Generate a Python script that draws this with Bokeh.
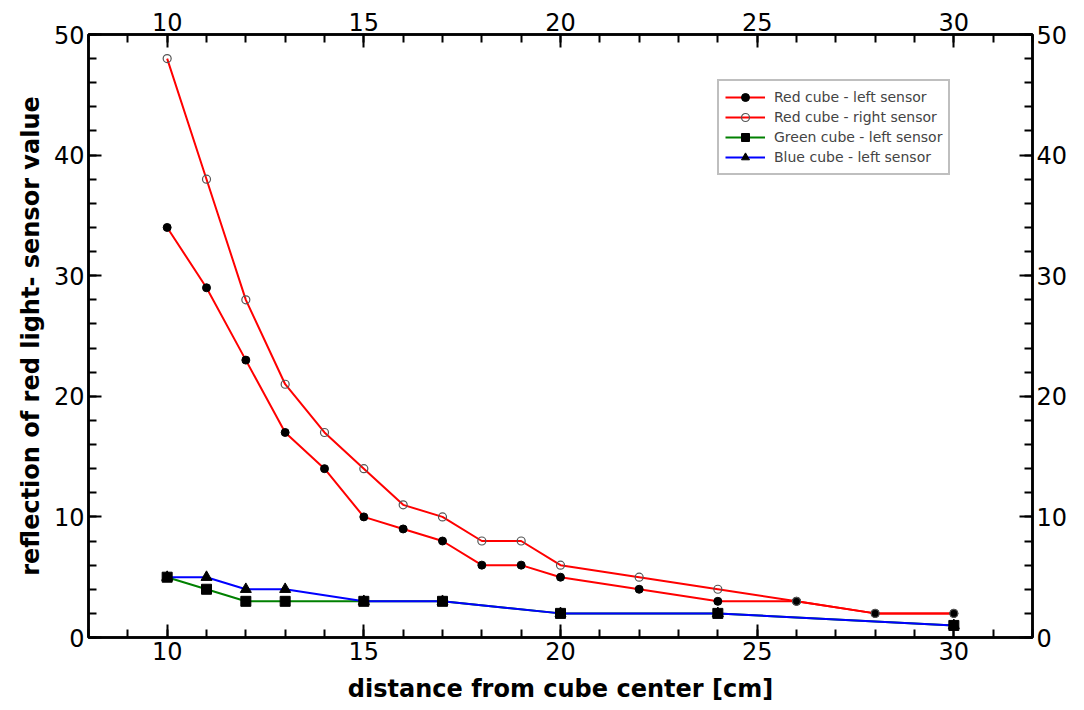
from bokeh.plotting import figure
from bokeh.models import LinearAxis, Range1d, SingleIntervalTicker, Legend
from bokeh.embed import file_html
from bokeh.resources import INLINE

# ---- data ----
red_x = [10, 11, 12, 13, 14, 15, 16, 17, 18, 19, 20, 22, 24, 26, 28, 30]
red_left = [34, 29, 23, 17, 14, 10, 9, 8, 6, 6, 5, 4, 3, 3, 2, 2]
red_right = [48, 38, 28, 21, 17, 14, 11, 10, 8, 8, 6, 5, 4, 3, 2, 2]
gb_x = [10, 11, 12, 13, 15, 17, 20, 24, 30]
green_left = [5, 4, 3, 3, 3, 3, 2, 2, 1]
blue_left = [5, 5, 4, 4, 3, 3, 2, 2, 1]

labels = ["Red cube - left sensor", "Red cube - right sensor",
          "Green cube - left sensor", "Blue cube - left sensor"]

FONT = "DejaVu Sans"

p = figure(width=1076, height=706, output_backend="svg", toolbar_location=None,
           x_range=Range1d(8, 32), y_range=Range1d(0, 50),
           min_border_left=88, min_border_right=44, min_border_top=34, min_border_bottom=69)
p.grid.visible = False
p.outline_line_color = "black"
p.outline_line_width = 2.5

# lines
r1 = p.line(red_x, red_left, line_color="red", line_width=2)
r2 = p.line(red_x, red_right, line_color="red", line_width=2)
g = p.line(gb_x, green_left, line_color="green", line_width=2)
b = p.line(gb_x, blue_left, line_color="blue", line_width=2)
m1 = p.scatter(red_x, red_left, marker="circle", size=8, fill_color="black", line_color="black")
m2 = p.scatter(red_x, red_right, marker="circle", size=8, fill_alpha=0, line_color="#555555", line_width=1.2)
m4 = p.scatter(gb_x, blue_left, marker="triangle", size=11, fill_color="black", line_color="black")
m3 = p.scatter(gb_x, green_left, marker="square", size=10, fill_color="black", line_color="black")

legend = Legend(items=[(labels[0], [r1, m1]), (labels[1], [r2, m2]),
                       (labels[2], [g, m3]), (labels[3], [b, m4])],
                location=(629, 462))
legend.label_text_font = FONT
legend.label_text_font_size = "14px"
legend.glyph_width = 40
legend.glyph_height = 20
legend.label_height = 20
legend.label_standoff = 9
legend.spacing = 0
legend.padding = 6
legend.margin = 0
legend.border_line_color = "#808080"
legend.border_line_width = 2
legend.background_fill_alpha = 1
p.add_layout(legend, "center")

p.add_layout(LinearAxis(), "above")
p.add_layout(LinearAxis(), "right")

for ax in p.axis:
    ax.axis_line_width = 2.5
    ax.axis_line_color = "black"
    ax.major_tick_in = 13
    ax.major_tick_out = 0
    ax.minor_tick_in = 8
    ax.minor_tick_out = 0
    ax.major_tick_line_width = 2
    ax.minor_tick_line_width = 2
    ax.major_tick_line_color = "black"
    ax.minor_tick_line_color = "black"
    ax.major_label_text_font = FONT
    ax.major_label_text_font_size = "24px"
    ax.major_label_text_color = "black"
    ax.major_label_standoff = 4

for ax in p.xaxis:
    ax.ticker = SingleIntervalTicker(interval=5, num_minor_ticks=5)
for ax in p.yaxis:
    ax.ticker = SingleIntervalTicker(interval=10, num_minor_ticks=5)

p.below[0].axis_label = "distance from cube center [cm]"
p.left[0].axis_label = "reflection of red light- sensor value"
for ax in (p.below[0], p.left[0]):
    ax.axis_label_text_font = FONT
    ax.axis_label_text_font_style = "bold"
    ax.axis_label_text_font_size = "24px"
    ax.axis_label_text_color = "black"
p.below[0].axis_label_standoff = 12
p.left[0].axis_label_standoff = 6

open("out.html", "w").write(file_html(p, INLINE))
